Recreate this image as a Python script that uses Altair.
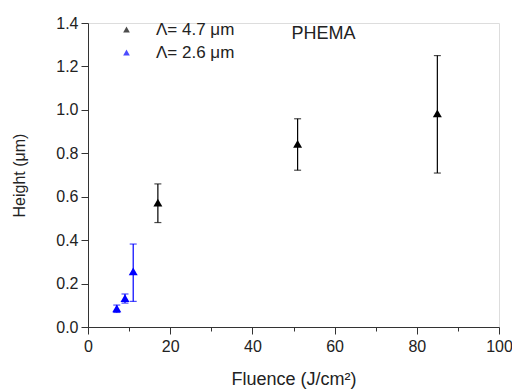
import altair as alt
import pandas as pd

# data
series = ["Λ= 4.7 μm", "Λ= 4.7 μm", "Λ= 4.7 μm", "Λ= 2.6 μm", "Λ= 2.6 μm", "Λ= 2.6 μm"]
fluence = [17, 51, 85, 7, 9, 11]
height = [0.573, 0.843, 0.984, 0.086, 0.133, 0.256]
err_low = [0.481, 0.722, 0.709, 0.067, 0.110, 0.118]
err_high = [0.659, 0.959, 1.25, 0.101, 0.152, 0.382]

series_names = ["Λ= 4.7 μm", "Λ= 2.6 μm"]
series_colors = ["black", "#0000ff"]

x_ticks = [0, 10, 20, 30, 40, 50, 60, 70, 80, 90, 100]
y_ticks = [0.0, 0.1, 0.2, 0.3, 0.4, 0.5, 0.6, 0.7, 0.8, 0.9, 1.0, 1.1, 1.2, 1.3, 1.4]

label_text = ["PHEMA"]
label_x = [49.5]
label_y = [1.348]

df = pd.DataFrame({"series": series, "fluence": fluence, "height": height,
                   "lo": err_low, "hi": err_high})
lab = pd.DataFrame({"t": label_text, "x": label_x, "y": label_y})

FONT = "Liberation Sans"
color_scale = alt.Scale(domain=series_names, range=series_colors)
legend = alt.Legend(title=None, orient="none", legendX=30, legendY=-2,
                    symbolType="triangle-up", symbolSize=45,
                    labelFontSize=17, labelFont=FONT, labelColor="#222",
                    labelOffset=21, rowPadding=5, padding=0,
                    symbolStrokeWidth=0)
color_enc = alt.Color("series:N", scale=color_scale, sort=series_names, legend=legend)

x_enc = alt.X("fluence:Q",
              scale=alt.Scale(domain=[0, 100], nice=False, zero=False),
              axis=alt.Axis(values=x_ticks, title="Fluence (J/cm²)", labelFlush=False,
                            labelExpr="datum.value % 20 === 0 ? datum.label : ''",
                            tickSize={"condition": {"test": "datum.value % 20 === 0", "value": 7}, "value": 4},
                            grid=False, labelFontSize=16, titleFontSize=18,
                            titleFontWeight="normal", labelPadding=4, titlePadding=16,
                            domainColor="#333", tickColor="#333", labelColor="#222",
                            titleColor="#222", labelFont=FONT, titleFont=FONT))
y_enc = alt.Y("height:Q",
              scale=alt.Scale(domain=[0, 1.4], nice=False, zero=False),
              axis=alt.Axis(values=y_ticks, title="Height (μm)", format=".1f", labelFlush=False,
                            labelExpr="round(datum.value*10) % 2 === 0 ? datum.label : ''",
                            tickSize={"condition": {"test": "round(datum.value*10) % 2 === 0", "value": 7}, "value": 4},
                            grid=False, labelFontSize=16, titleFontSize=16,
                            titleFontWeight="normal", labelPadding=3, titlePadding=28,
                            domainColor="#333", tickColor="#333", labelColor="#222",
                            titleColor="#222", labelFont=FONT, titleFont=FONT))

base = alt.Chart(df)

rules = base.mark_rule(strokeWidth=1.2).encode(
    x=x_enc, y=alt.Y("lo:Q"), y2="hi:Q", color=color_enc)
caps_lo = base.mark_tick(orient="horizontal", size=7, thickness=1.2).encode(
    x="fluence:Q", y="lo:Q", color=color_enc)
caps_hi = base.mark_tick(orient="horizontal", size=7, thickness=1.2).encode(
    x="fluence:Q", y="hi:Q", color=color_enc)
pts = base.mark_point(shape="triangle-up", filled=True, size=80, opacity=1).encode(
    x="fluence:Q", y=y_enc, color=color_enc)
txt = alt.Chart(lab).mark_text(align="left", baseline="middle", fontSize=18,
                               font=FONT, color="#222").encode(
    x="x:Q", y="y:Q", text="t:N")

chart = alt.layer(rules, caps_lo, caps_hi, pts, txt).properties(
    width=411, height=304,
    autosize="none",
    padding={"left": 80, "top": 15, "right": 13, "bottom": 62},
).configure_view(stroke=None).configure(background="white")

chart.save("out.html", embed_options={"renderer": "svg", "actions": False})
